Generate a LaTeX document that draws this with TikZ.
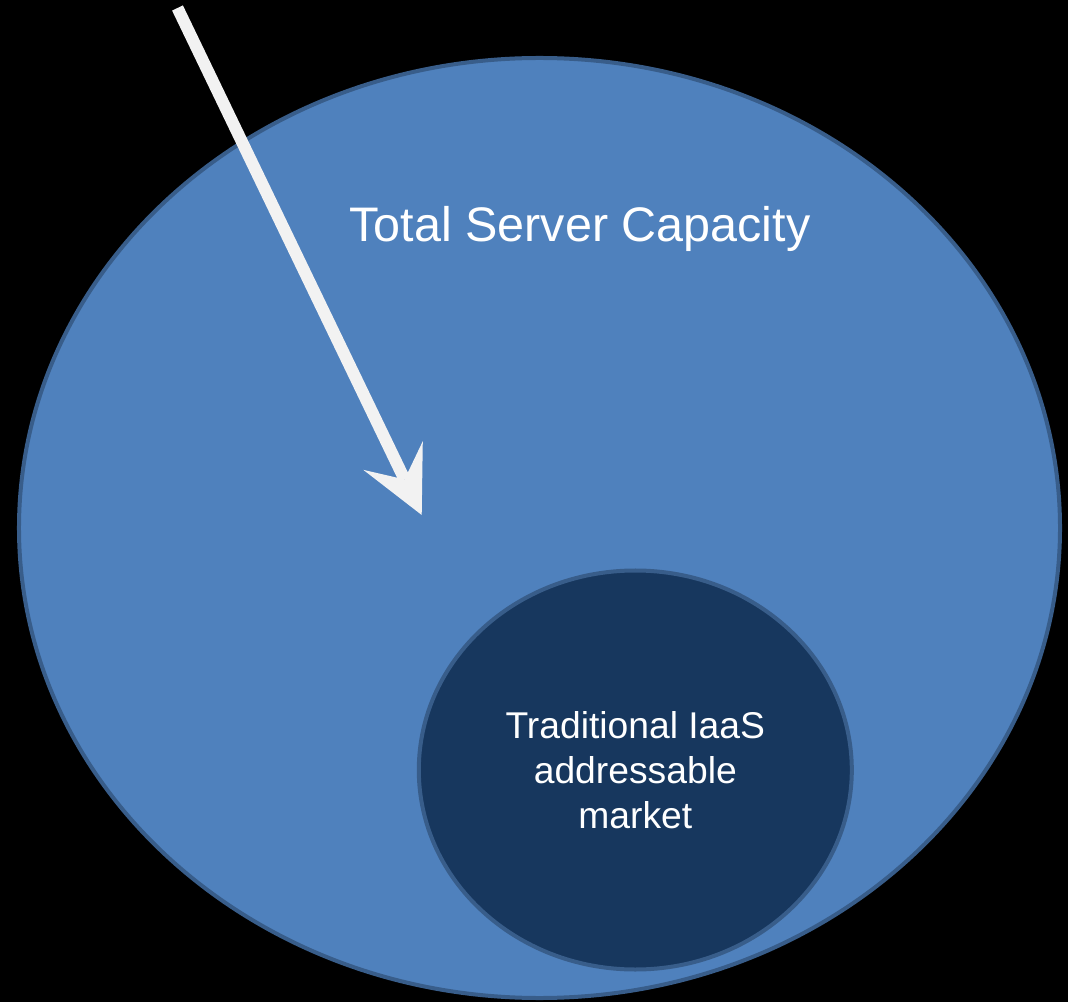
\documentclass[tikz,border=0pt]{standalone}
\usepackage{fontspec}
\setmainfont{Liberation Sans}
\usetikzlibrary{arrows.meta,shapes.geometric}
\definecolor{capblue}{HTML}{4F81BD}
\definecolor{iaasblue}{HTML}{17375E}
\definecolor{rimblue}{HTML}{385D8A}
\definecolor{pointgray}{HTML}{F2F2F2}
\tikzset{blob/.style={ellipse,draw=rimblue,line width=0.8mm,inner sep=0pt}}
\tikzset{txt/.style={text=white,inner sep=0pt}}
\tikzset{pointer/.style={draw=pointgray,line width=2.4mm,
  -{Stealth[length=13.2mm,width=13.2mm,inset=5.3mm,line width=0pt]}}}

\begin{document}
\begin{tikzpicture}[x=0.2mm, y=-0.2mm]
\fill[black] (0,0) rectangle (1068,1002);
\node (capacity) at (539.5,528) [blob,fill=capblue,minimum width=208.2mm,minimum height=188mm] {};
\node (title) at (580,241.7) [txt,anchor=base,font=\fontsize{27.6pt}{33pt}\selectfont] {Total Server Capacity};
\node (iaas) at (635.3,770) [blob,fill=iaasblue,minimum width=86.6mm,minimum height=79.8mm,
  text=white,align=center,font=\fontsize{21.2pt}{25.5pt}\selectfont] {Traditional IaaS\\addressable\\market};
\coordinate (tail) at (177.5,8);
\coordinate (tip) at (421.7,515);
\draw[pointer] (tail)--(tip);
\end{tikzpicture}
\end{document}
